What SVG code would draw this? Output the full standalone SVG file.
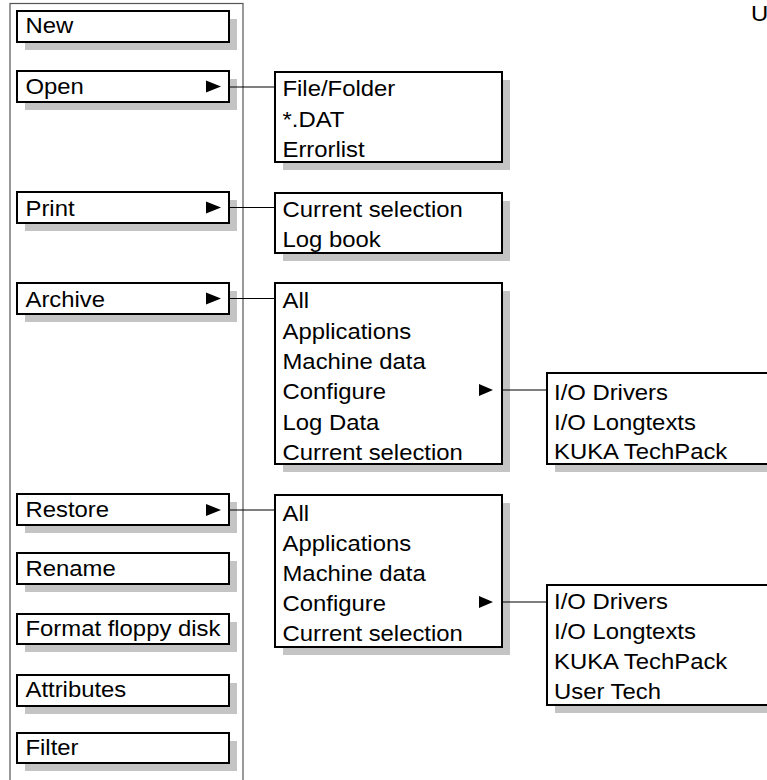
<svg xmlns="http://www.w3.org/2000/svg" width="767" height="780" viewBox="0 0 767 780">
<defs>
<style>
.panel{fill:#fff;stroke:#555;stroke-width:1.2}
.sh{fill:#c4c4c4;stroke:none}
.bx{fill:#fff;stroke:#000;stroke-width:2}
.t{font-family:"Liberation Sans",Arial,Helvetica,sans-serif;font-size:22px;fill:#000}
.tri{fill:#000}
.cn{stroke:#000;stroke-width:1.2;fill:none}
</style>
</defs>
<rect width="767" height="780" fill="#fff"/>
<rect class="panel" x="10" y="3.5" width="233" height="790"/>
<text class="t" transform="matrix(1.085 0 0 1 751 21)">U</text>

<g id="new"><rect class="sh" x="25" y="19" width="212" height="31"/><rect class="bx" x="17" y="11" width="212" height="31"/><text class="t" transform="matrix(1.085 0 0 1 25.5 33)">New</text></g>
<g id="open"><rect class="sh" x="25" y="79" width="212" height="31"/><rect class="bx" x="17" y="71" width="212" height="31"/><text class="t" transform="matrix(1.085 0 0 1 25.5 94)">Open</text><polygon class="tri" points="206,80.5 206,92.5 221,86.5"/></g>
<g id="print"><rect class="sh" x="25" y="200" width="212" height="31"/><rect class="bx" x="17" y="192" width="212" height="31"/><text class="t" transform="matrix(1.085 0 0 1 25.5 216)">Print</text><polygon class="tri" points="206,201.5 206,213.5 221,207.5"/></g>
<g id="archive"><rect class="sh" x="25" y="291" width="212" height="31"/><rect class="bx" x="17" y="283" width="212" height="31"/><text class="t" transform="matrix(1.085 0 0 1 25.5 307)">Archive</text><polygon class="tri" points="206,292.5 206,304.5 221,298.5"/></g>
<g id="restore"><rect class="sh" x="25" y="502" width="212" height="31"/><rect class="bx" x="17" y="494" width="212" height="31"/><text class="t" transform="matrix(1.085 0 0 1 25.5 517)">Restore</text><polygon class="tri" points="206,504 206,516 221,510"/></g>
<g id="rename"><rect class="sh" x="25" y="561" width="212" height="31"/><rect class="bx" x="17" y="553" width="212" height="31"/><text class="t" transform="matrix(1.085 0 0 1 25.5 576)">Rename</text></g>
<g id="format"><rect class="sh" x="25" y="622" width="212" height="30"/><rect class="bx" x="17" y="614" width="212" height="30"/><text class="t" transform="matrix(1.085 0 0 1 25.5 636)">Format floppy disk</text></g>
<g id="attributes"><rect class="sh" x="25" y="683" width="212" height="31"/><rect class="bx" x="17" y="675" width="212" height="31"/><text class="t" transform="matrix(1.085 0 0 1 25.5 697)">Attributes</text></g>
<g id="filter"><rect class="sh" x="25" y="741" width="212" height="30"/><rect class="bx" x="17" y="733" width="212" height="30"/><text class="t" transform="matrix(1.085 0 0 1 25.5 755)">Filter</text></g>

<g id="open-sub"><rect class="sh" x="283" y="80" width="227" height="90"/><rect class="bx" x="275" y="72" width="227" height="90"/>
<text class="t" transform="matrix(1.085 0 0 1 282.5 96)">File/Folder</text>
<text class="t" transform="matrix(1.085 0 0 1 282.5 127)">*.DAT</text>
<text class="t" transform="matrix(1.085 0 0 1 282.5 157)">Errorlist</text></g>

<g id="print-sub"><rect class="sh" x="283" y="201" width="227" height="60"/><rect class="bx" x="275" y="193" width="227" height="60"/>
<text class="t" transform="matrix(1.085 0 0 1 282.5 217)">Current selection</text>
<text class="t" transform="matrix(1.085 0 0 1 282.5 247)">Log book</text></g>

<g id="archive-sub"><rect class="sh" x="283" y="291" width="227" height="181"/><rect class="bx" x="275" y="283" width="227" height="181"/>
<text class="t" transform="matrix(1.085 0 0 1 282.5 308)">All</text>
<text class="t" transform="matrix(1.085 0 0 1 282.5 339)">Applications</text>
<text class="t" transform="matrix(1.085 0 0 1 282.5 369)">Machine data</text>
<text class="t" transform="matrix(1.085 0 0 1 282.5 399)">Configure</text>
<text class="t" transform="matrix(1.085 0 0 1 282.5 430)">Log Data</text>
<text class="t" transform="matrix(1.085 0 0 1 282.5 460)">Current selection</text>
<polygon class="tri" points="479,384 479,396 493,390"/></g>

<g id="archive-config"><rect class="sh" x="555" y="381" width="230" height="91"/><rect class="bx" x="547" y="373" width="230" height="91"/>
<text class="t" transform="matrix(1.085 0 0 1 554 400)">I/O Drivers</text>
<text class="t" transform="matrix(1.085 0 0 1 554 430)">I/O Longtexts</text>
<text class="t" transform="matrix(1.085 0 0 1 554 459)">KUKA TechPack</text></g>

<g id="restore-sub"><rect class="sh" x="283" y="503" width="227" height="152"/><rect class="bx" x="275" y="495" width="227" height="152"/>
<text class="t" transform="matrix(1.085 0 0 1 282.5 521)">All</text>
<text class="t" transform="matrix(1.085 0 0 1 282.5 551)">Applications</text>
<text class="t" transform="matrix(1.085 0 0 1 282.5 581)">Machine data</text>
<text class="t" transform="matrix(1.085 0 0 1 282.5 611)">Configure</text>
<text class="t" transform="matrix(1.085 0 0 1 282.5 641)">Current selection</text>
<polygon class="tri" points="479,596 479,608 493,602"/></g>

<g id="restore-config"><rect class="sh" x="555" y="593" width="230" height="120"/><rect class="bx" x="547" y="585" width="230" height="120"/>
<text class="t" transform="matrix(1.085 0 0 1 554 609)">I/O Drivers</text>
<text class="t" transform="matrix(1.085 0 0 1 554 639)">I/O Longtexts</text>
<text class="t" transform="matrix(1.085 0 0 1 554 669)">KUKA TechPack</text>
<text class="t" transform="matrix(1.085 0 0 1 554 699)">User Tech</text></g>

<g id="connectors">
<line class="cn" x1="230" y1="87" x2="275" y2="87"/>
<line class="cn" x1="230" y1="207.5" x2="275" y2="207.5"/>
<line class="cn" x1="230" y1="298.5" x2="275" y2="298.5"/>
<line class="cn" x1="230" y1="510" x2="275" y2="510"/>
<line class="cn" x1="502" y1="390" x2="547" y2="390"/>
<line class="cn" x1="502" y1="602" x2="547" y2="602"/>
</g>
</svg>
